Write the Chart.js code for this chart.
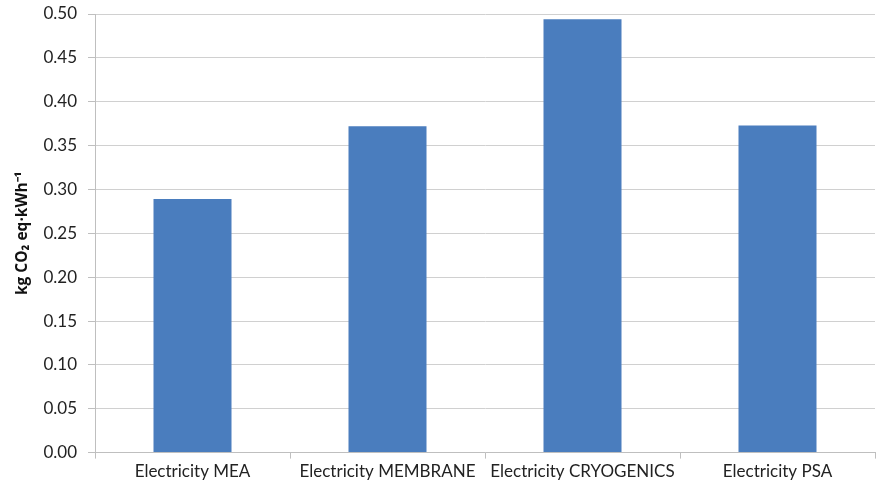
<!DOCTYPE html>
<html>
<head>
<meta charset="utf-8">
<script src="https://cdn.jsdelivr.net/npm/chart.js@4/dist/chart.umd.min.js"></script>
<style>
  html, body { margin: 0; padding: 0; background: #fff; }
  #wrap { width: 876px; height: 489px; }
</style>
</head>
<body>
<div id="wrap"><canvas id="chart" width="876" height="489"></canvas></div>
<script>
// data
const categories = ['Electricity MEA', 'Electricity MEMBRANE', 'Electricity CRYOGENICS', 'Electricity PSA'];
const emissions = [0.289, 0.372, 0.494, 0.373];
const yTicks = [0, 0.05, 0.10, 0.15, 0.20, 0.25, 0.30, 0.35, 0.40, 0.45, 0.50];

const fontFamily = "Lato, 'Open Sans', sans-serif";

const ctx = document.getElementById('chart').getContext('2d');
new Chart(ctx, {
  type: 'bar',
  data: {
    labels: categories,
    datasets: [{
      data: emissions,
      backgroundColor: '#4a7dbe',
      borderWidth: 0,
      barPercentage: 0.4,
      categoryPercentage: 1.0
    }]
  },
  options: {
    responsive: false,
    animation: false,
    layout: { padding: { top: 0, right: 1, bottom: 4, left: 3 } },
    plugins: {
      legend: { display: false },
      tooltip: { enabled: false }
    },
    scales: {
      x: {
        grid: {
          display: true,
          drawOnChartArea: false,
          drawTicks: true,
          tickLength: 6,
          offset: true,
          color: '#bfbfbf'
        },
        border: { color: '#bfbfbf' },
        ticks: {
          color: '#222',
          font: { family: fontFamily, size: 17 },
          padding: 3,
          maxRotation: 0
        }
      },
      y: {
        min: 0,
        max: 0.5,
        afterBuildTicks: axis => { axis.ticks = yTicks.map(v => ({ value: v })); },
        afterFit: axis => { axis.width = 92; axis.paddingTop = 14; },
        grid: {
          color: '#d0d0d0',
          tickLength: 7,
          tickColor: '#bfbfbf'
        },
        border: { color: '#bfbfbf' },
        ticks: {
          color: '#222',
          font: { family: fontFamily, size: 17 },
          padding: 11,
          callback: v => Number(v).toFixed(2)
        },
        title: {
          display: true,
          text: 'kg CO\u2082 eq\u00b7kWh\u207b\u00b9',
          color: '#111',
          font: { family: "'Open Sans', sans-serif", size: 15.5, weight: 'bold' },
          padding: { top: 10, bottom: 6 }
        }
      }
    }
  }
});
</script>
</body>
</html>
